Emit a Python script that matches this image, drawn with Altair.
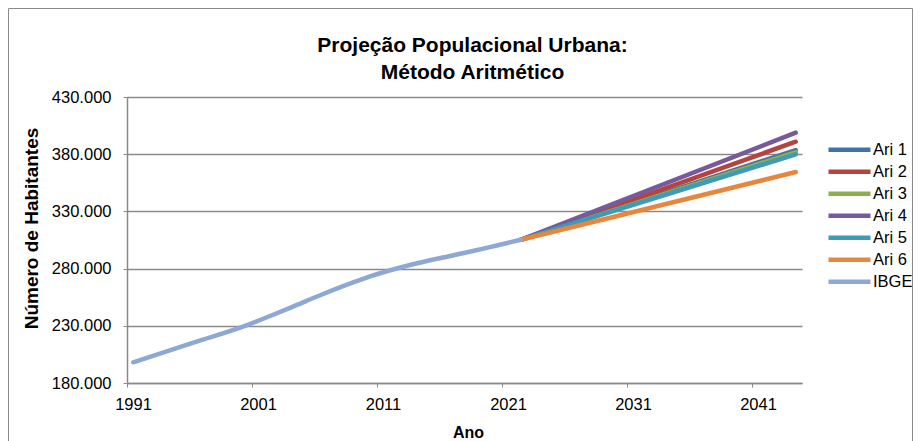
import altair as alt
import pandas as pd

# ---------------- data ----------------
ibge_years = [1991, 1996, 2000, 2002, 2004, 2006, 2008, 2010, 2012, 2014, 2016, 2018, 2020, 2022]
ibge_values = [198100, 215900, 230100, 238800, 247800, 256900, 265500, 273500, 279900,
               285300, 290200, 294900, 300000, 305200]

proj_years = [2022, 2044]
ari1 = [305200, 383600]
ari2 = [305200, 390900]
ari3 = [305200, 381900]
ari4 = [305200, 398800]
ari5 = [305200, 379900]
ari6 = [305200, 364400]

series_names = ["Ari 1", "Ari 2", "Ari 3", "Ari 4", "Ari 5", "Ari 6", "IBGE"]
series_colors = ["#4472A8", "#B5443F", "#8BAE4E", "#77599C", "#3E9AB5", "#E8863B", "#8DA8D4"]

x_tick_labels = [1991, 2001, 2011, 2021, 2031, 2041]
y_ticks = [180000, 230000, 280000, 330000, 380000, 430000]

rows = []
for name, vals in zip(series_names[:6], [ari1, ari2, ari3, ari4, ari5, ari6]):
    for yr, v in zip(proj_years, vals):
        rows.append({"serie": name, "ano": yr, "hab": v})
for yr, v in zip(ibge_years, ibge_values):
    rows.append({"serie": "IBGE", "ano": yr, "hab": v})
df = pd.DataFrame(rows)

FONT = "Liberation Sans, Arial, sans-serif"
W, H = 675, 286
PL, PT, PR, PB = 119, 89, 111, 58
GRAY = "#8a8a8a"

lines = alt.Chart(df).mark_line(strokeWidth=4.5, strokeCap="round", interpolate="monotone").encode(
    x=alt.X(
        "ano:Q",
        scale=alt.Scale(domain=[x_tick_labels[0] - 0.5, 2044.5], nice=False, zero=False),
        axis=alt.Axis(
            values=[v - 0.5 for v in x_tick_labels],
            labelExpr="format(datum.value + 0.5, 'd')",
            labelOffset=6, labelFlush=False,
            grid=False,
            title="Ano",
            titleX=341, titleY=54, titleBaseline="alphabetic",
            titleFontSize=16, titleFontWeight="bold", titleColor="black", titleFont=FONT,
            labelFontSize=16.5, labelColor="black", labelFont=FONT, labelPadding=9,
            tickSize=4, tickColor=GRAY, domainColor=GRAY, domainWidth=1.5,
        ),
    ),
    y=alt.Y(
        "hab:Q",
        scale=alt.Scale(domain=[y_ticks[0], y_ticks[-1]], nice=False, zero=False),
        axis=alt.Axis(
            values=y_ticks,
            labelExpr="replace(format(datum.value, ','), ',', '.')",
            grid=True, gridColor=GRAY, gridWidth=1.5,
            title="Número de Habitantes",
            titleX=-90, titleY=131, titleAngle=-90, titleAlign="center", titleBaseline="alphabetic",
            titleFontSize=19, titleFontWeight="bold", titleColor="black", titleFont=FONT,
            labelFontSize=16.5, labelColor="black", labelFont=FONT, labelPadding=12,
            tickSize=4, tickColor=GRAY, domainColor=GRAY, domainWidth=1.5,
        ),
    ),
    color=alt.Color(
        "serie:N",
        scale=alt.Scale(domain=series_names, range=series_colors),
        legend=alt.Legend(
            title=None, orient="none", legendX=699, legendY=42,
            symbolType="stroke", symbolSize=1764, symbolStrokeWidth=4.5,
            clipHeight=21.5, rowPadding=0, labelOffset=0,
            labelFontSize=16.5, labelColor="black", labelFont=FONT,
        ),
    ),
    order=alt.Order("ano:Q"),
)

frame_df = pd.DataFrame({"k": [0]})
frame = alt.Chart(frame_df).mark_rect(fill=None, stroke=GRAY, strokeWidth=1).encode(
    x=alt.value(-PL + 0.5), x2=alt.value(W + PR - 0.5),
    y=alt.value(-PT + 0.5), y2=alt.value(H + PB + 10),
)

chart = alt.layer(frame, lines).properties(
    width=W, height=H,
    padding={"left": PL, "top": PT, "right": PR, "bottom": PB},
    autosize=alt.AutoSizeParams(type="none"),
    title=alt.Title(
        ["Projeção Populacional Urbana:", "Método Aritmético"],
        fontSize=21, fontWeight="bold", color="black", font=FONT,
        anchor="middle", frame="group", lineHeight=27, offset=0, dx=8, dy=75,
        baseline="top",
    ),
).configure_view(stroke=None)

chart.save("out.html", embed_options={"renderer": "svg", "actions": False})
